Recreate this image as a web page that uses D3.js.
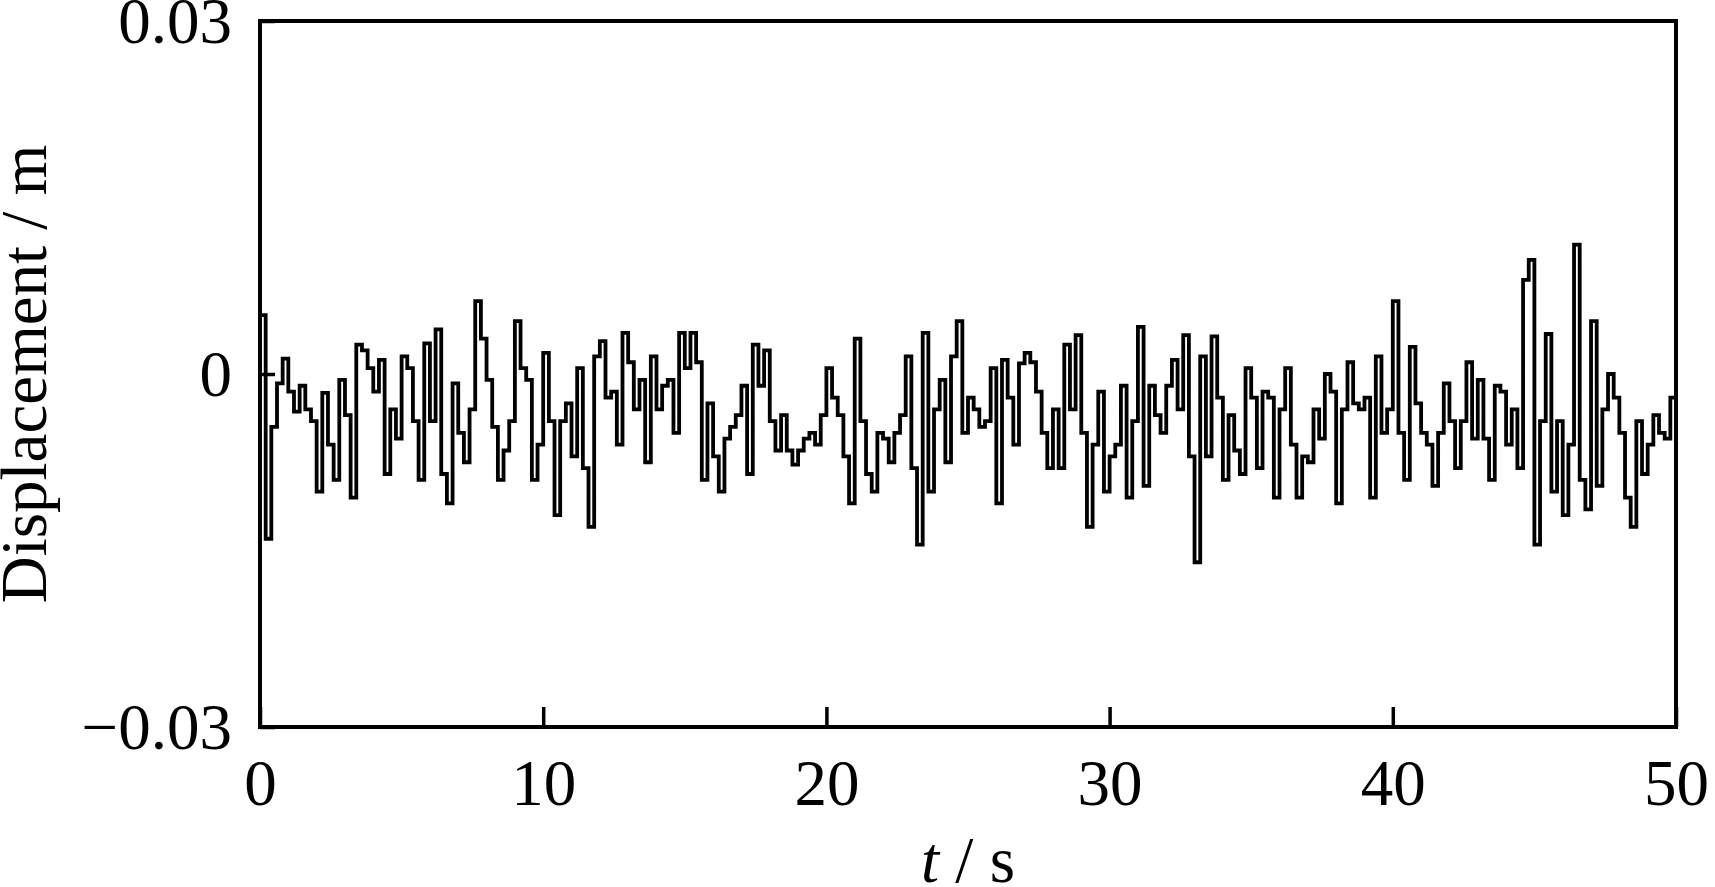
<!DOCTYPE html>
<html>
<head>
<meta charset="utf-8">
<script src="https://cdn.jsdelivr.net/npm/d3@7"></script>
<style>
  html, body { margin: 0; padding: 0; background: #fff; }
  svg { display: block; }
  text { font-family: "Liberation Serif", "Times New Roman", serif; fill: #000; }
</style>
</head>
<body>
<svg id="chart" width="1715" height="887"></svg>
<script>
// ---- data ----
const timeStep = 0.2;            // s, sampling interval of the record
const displacementMM = [         // displacement in mm, one value per step from t = 0 s
  5.0, -14, -4.5, -0.8, 1.3, -1.5, -3.2, -1.0, -3.0, -4.0,
  -10, -1.6, -6, -9, -0.5, -3.5, -10.5, 2.5, 2.0, 0.5,
  -1.5, 1.2, -8.5, -3, -5.5, 1.5, 0.5, -4, -9, 2.6,
  -4, 3.8, -8.5, -11, -0.8, -5, -7.5, -3, 6.2, 3,
  -0.5, -4.5, -9, -6.5, -4, 4.5, 0.5, -0.5, -9, -6,
  1.8, -4, -12, -4, -2.5, -7, 0.5, -8, -13, 1.5,
  2.8, -2, -1.5, -6, 3.5, 1, -3, -0.5, -7.5, 1.5,
  -3, -1, -0.5, -5, 3.5, 0.5, 3.5, 1.0, -9, -2.5,
  -7, -10, -5.5, -4.5, -3.5, -1, -8.5, 2.5, -1, 2,
  -4, -6.5, -3.5, -6.5, -7.7, -6.5, -5.5, -5, -6, -3.5,
  0.5, -2, -3.5, -7, -11, 3, -4, -8.5, -10, -5,
  -5.5, -7.5, -5, -3.5, 1.5, -8, -14.5, 3.5, -10, -3,
  -0.5, -7.5, 1.5, 4.5, -5, -2, -3, -4.5, -4, 0.5,
  -11, 1.2, -2, -6, 0.9, 1.8, 1.0, -1.5, -5, -8,
  -3, -8, 2.5, -3, 3.3, -5, -13, -6, -1.5, -10,
  -7, -6, -1, -10.5, -4, 4, -9.5, -1, -3.5, -5,
  -1, 1.2, -3, 3.3, -7, -16, 1.5, -7, 3.2, -2,
  -9, -3.5, -6.5, -8.5, 0.5, -2, -8, -1.5, -2, -10.5,
  -3, 0.5, -6, -10.5, -7, -7.5, -3, -5.5, 0, -1.5,
  -11, -3, 1, -2.5, -3, -2, -10.5, 1.5, -5, -3,
  6.2, -5, -9, 2.3, -2.5, -5, -6, -9.5, -5, -0.8,
  -4, -8, -4, 1, -5.5, -0.5, -5.5, -9, -1, -1.5,
  -6, -3, -8, 8, 9.7, -14.5, -4, 3.4, -10, -4,
  -12, -6, 11, -9, -11.5, 4.5, -9.5, -3, 0, -2,
  -5, -10.5, -13, -4, -8.5, -6, -3.5, -5, -5.5, -2,
  -1.5
];
const xDomain = [0, 50];
const yDomain = [-0.03, 0.03];
const xTickValues = [0, 10, 20, 30, 40, 50];
const xTickLabels = ["0", "10", "20", "30", "40", "50"];
const yTickValues = [-0.03, 0, 0.03];
const yTickLabels = ["\u22120.03", "0", "0.03"];
const xTitleItalic = "t";
const xTitleRest = " / s";
const yTitle = "Displacement / m";

// ---- layout ----
const svg = d3.select("#chart");
const plot = { left: 260, right: 1676, top: 21, bottom: 727 };
const fontSize = 65;

const x = d3.scaleLinear().domain(xDomain).range([plot.left, plot.right]);
const y = d3.scaleLinear().domain(yDomain).range([plot.bottom, plot.top]);

const series = displacementMM.map((v, i) => ({ t: i * timeStep, d: v / 1000 }));

svg.append("defs").append("clipPath").attr("id", "clip")
  .append("rect")
  .attr("x", plot.left).attr("y", plot.top)
  .attr("width", plot.right - plot.left).attr("height", plot.bottom - plot.top);

// trace as a held (step) record
const line = d3.line()
  .x(d => x(d.t))
  .y(d => y(d.d))
  .curve(d3.curveStepAfter);

svg.append("path")
  .datum(series)
  .attr("clip-path", "url(#clip)")
  .attr("fill", "none")
  .attr("stroke", "#000")
  .attr("stroke-width", 3.8)
  .attr("stroke-linejoin", "miter")
  .attr("d", line);

// x axis (ticks inward)
const xAxis = d3.axisBottom(x)
  .tickValues(xTickValues)
  .tickFormat((d, i) => xTickLabels[i])
  .tickSizeInner(-20)
  .tickSizeOuter(0)
  .tickPadding(0);
const gx = svg.append("g").attr("transform", `translate(0,${plot.bottom})`).call(xAxis);
gx.select(".domain").remove();
gx.selectAll(".tick line").attr("stroke", "#000").attr("stroke-width", 3.5);
gx.selectAll(".tick text")
  .attr("y", 78)
  .attr("dy", null)
  .style("font-size", fontSize + "px")
  .style("font-family", "'Liberation Serif', 'Times New Roman', serif");

// y axis (ticks inward)
const yAxis = d3.axisLeft(y)
  .tickValues(yTickValues)
  .tickFormat((d, i) => yTickLabels[i])
  .tickSizeInner(-15)
  .tickSizeOuter(0)
  .tickPadding(0);
const gy = svg.append("g").attr("transform", `translate(${plot.left},0)`).call(yAxis);
gy.select(".domain").remove();
gy.selectAll(".tick line").attr("stroke", "#000").attr("stroke-width", 3.5);
gy.selectAll(".tick text")
  .attr("x", -28)
  .attr("dy", "0.33em")
  .style("font-size", fontSize + "px")
  .style("font-family", "'Liberation Serif', 'Times New Roman', serif");

// frame
svg.append("rect")
  .attr("x", plot.left).attr("y", plot.top)
  .attr("width", plot.right - plot.left).attr("height", plot.bottom - plot.top)
  .attr("fill", "none")
  .attr("stroke", "#000")
  .attr("stroke-width", 4);

// x title
const xt = svg.append("text")
  .attr("x", (plot.left + plot.right) / 2)
  .attr("y", 882)
  .attr("text-anchor", "middle")
  .style("font-size", fontSize + "px");
xt.append("tspan").style("font-style", "italic").text(xTitleItalic);
xt.append("tspan").text(xTitleRest);

// y title
svg.append("text")
  .attr("transform", `translate(46,${(plot.top + plot.bottom) / 2}) rotate(-90)`)
  .attr("text-anchor", "middle")
  .style("font-size", fontSize + "px")
  .text(yTitle);
</script>
</body>
</html>
